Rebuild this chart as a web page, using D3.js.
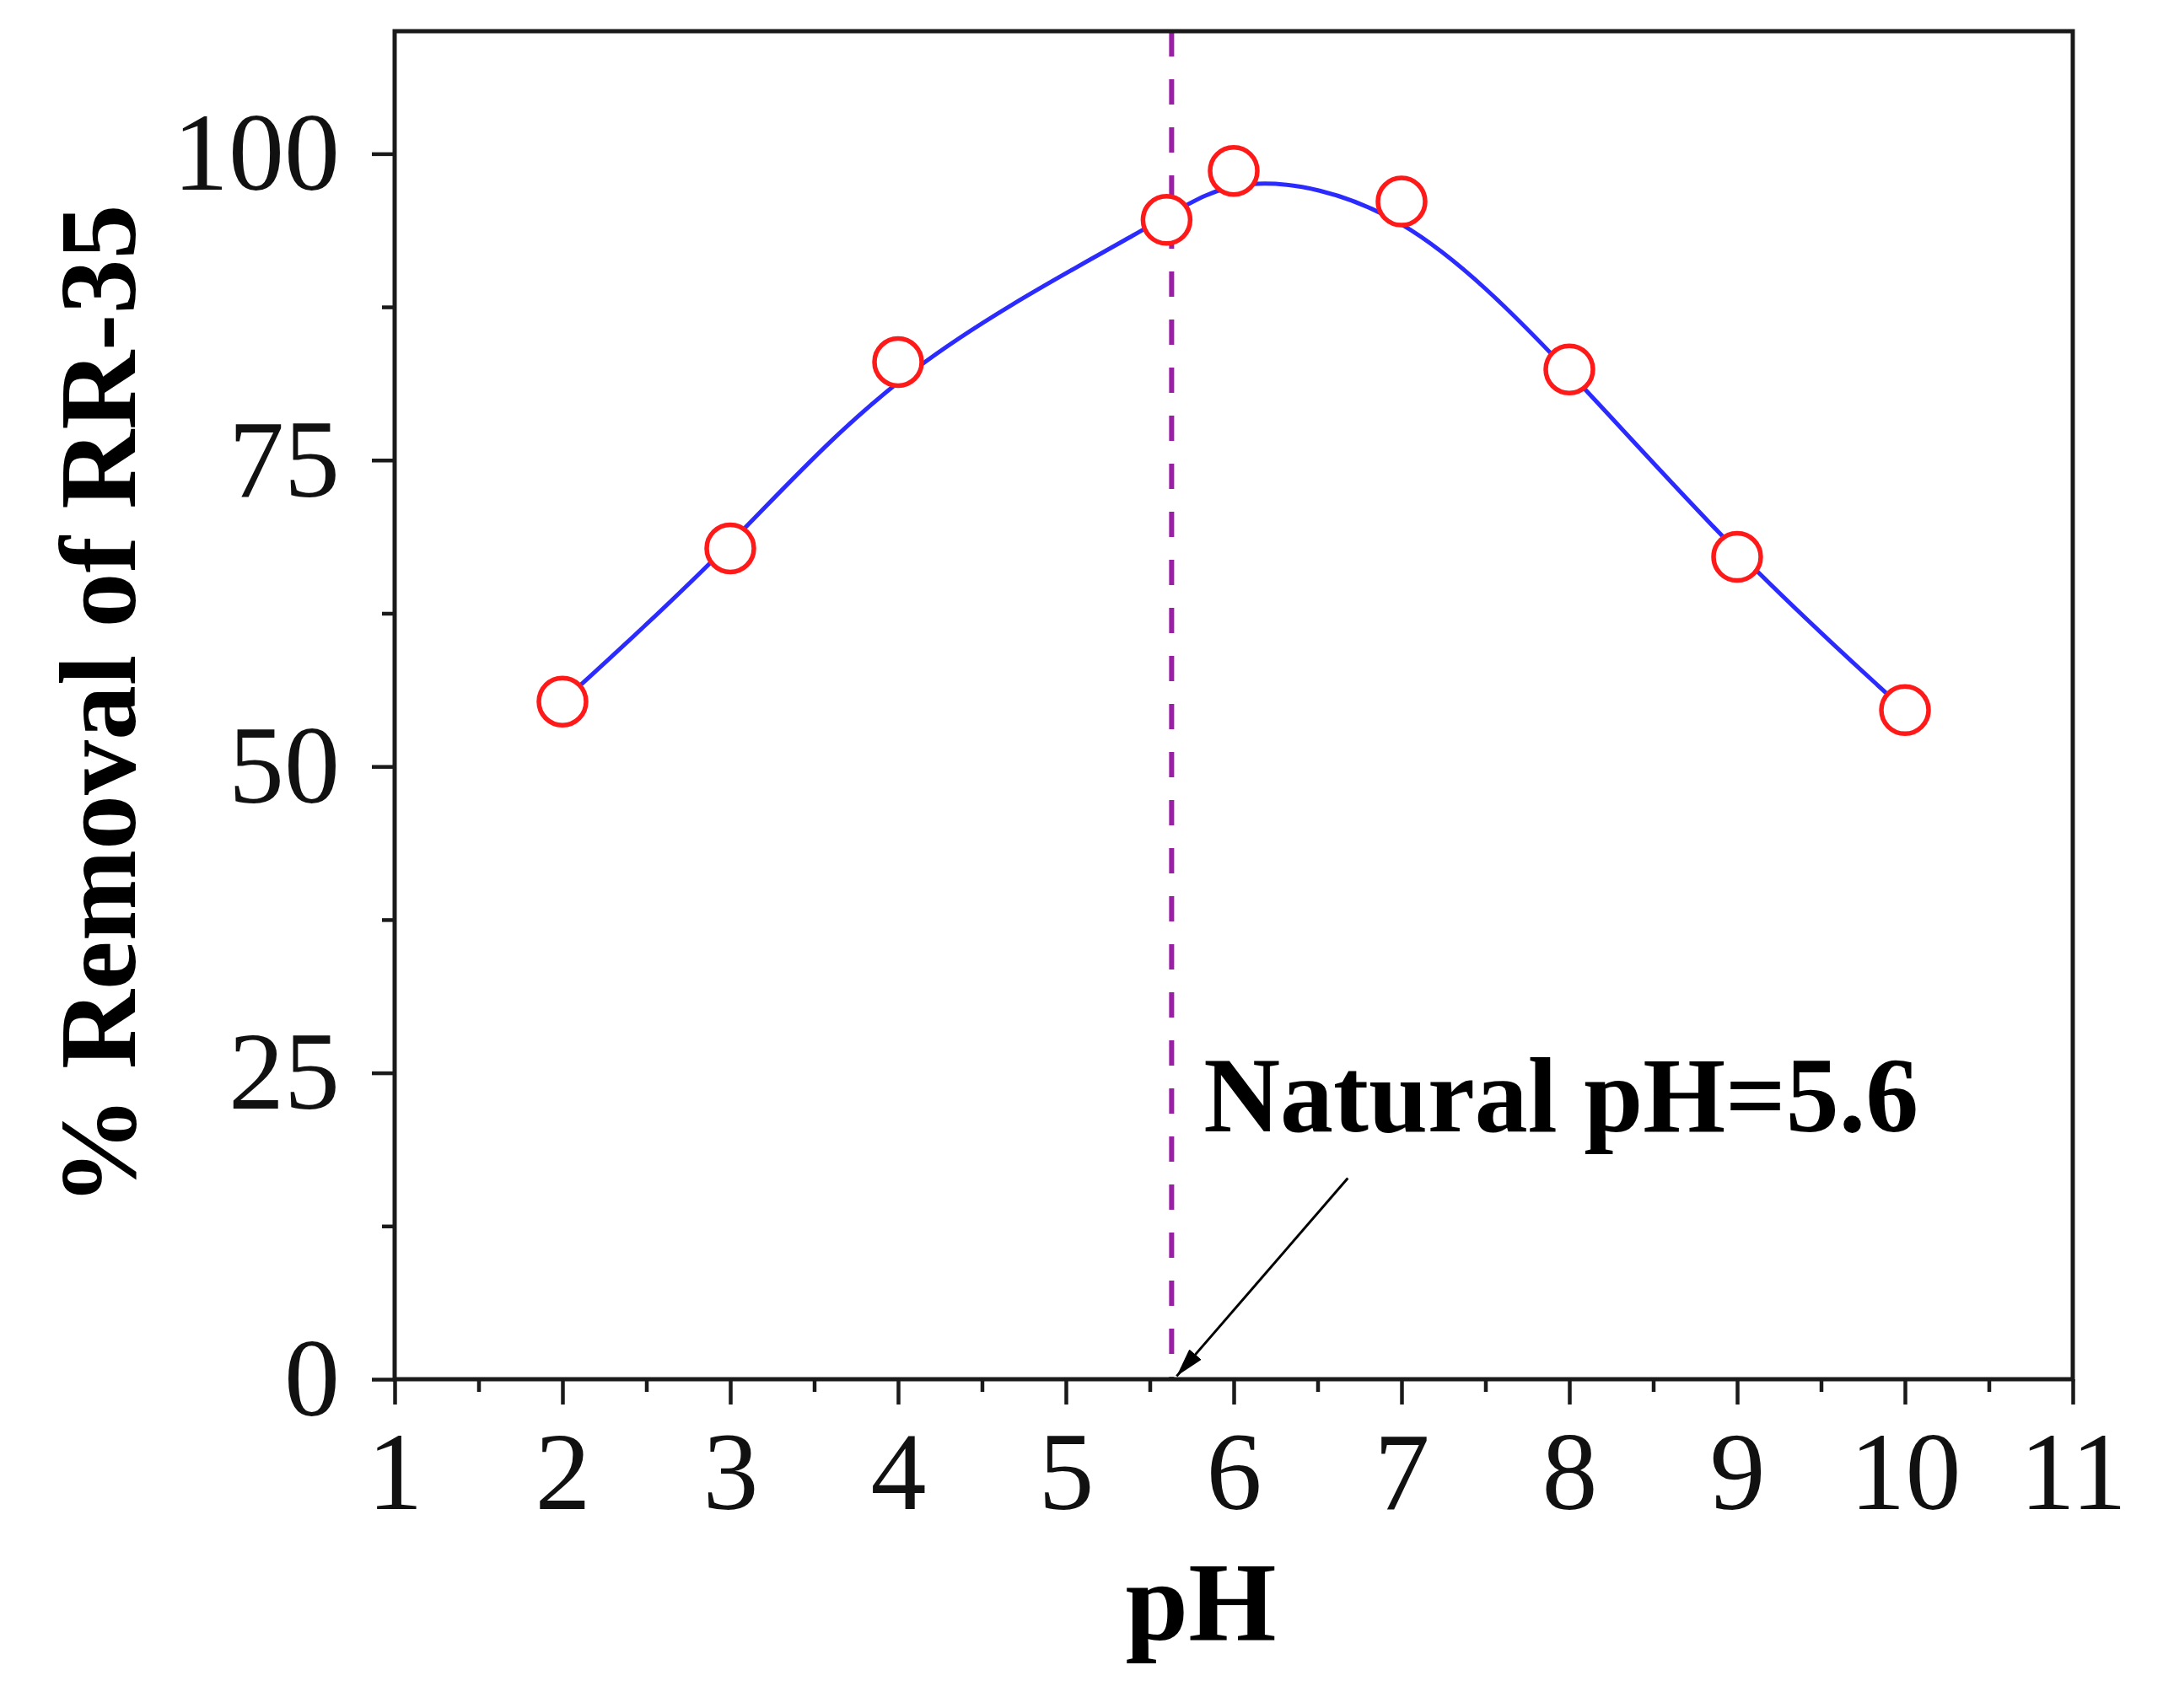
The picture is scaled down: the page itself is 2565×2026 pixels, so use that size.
<!DOCTYPE html>
<html>
<head>
  <script type="text/javascript" src="https://cdn.jsdelivr.net/npm/d3@7"></script>
  <title>pH effect on RR-35 removal</title>
  <style>
    body { margin: 0; background: #fff; }
    svg { display: block; }
  </style>
</head>
<body>

<svg id="chart"></svg>

<script>
  var phValues = [2, 3, 4, 5.6, 6, 7, 8, 9, 10];
  var removalValues = [55.3, 67.8, 83.0, 94.6, 98.6, 96.1, 82.4, 67.1, 54.6];

  var xTicks = [1, 2, 3, 4, 5, 6, 7, 8, 9, 10, 11];
  var xMinorTicks = [1.5, 2.5, 3.5, 4.5, 5.5, 6.5, 7.5, 8.5, 9.5, 10.5];
  var yTicks = [0, 25, 50, 75, 100];
  var yMinorTicks = [12.5, 37.5, 62.5, 87.5];

  var naturalPH = 5.63;
  var noteText = "Natural pH=5.6";

  var width = 2565, height = 2026;
  var margin = { top: 37, right: 107, bottom: 390, left: 468 };
  var font = "'Liberation Serif', 'Times New Roman', serif";

  var svg = d3.select("#chart")
      .attr("width", width)
      .attr("height", height);

  svg.append("rect")
      .attr("width", width)
      .attr("height", height)
      .attr("fill", "#fff");

  var x = d3.scaleLinear().domain([1, 11]).range([margin.left, width - margin.right]);
  var y = d3.scaleLinear().domain([0, 110]).range([height - margin.bottom, margin.top]);

  var points = phValues.map(function(p, i) { return [p, removalValues[i]]; });

  // dashed line at natural pH
  svg.append("line")
      .attr("x1", x(naturalPH)).attr("x2", x(naturalPH))
      .attr("y1", y(110)).attr("y2", y(0))
      .attr("stroke", "#9a1fa6")
      .attr("stroke-width", 6)
      .attr("stroke-dasharray", "30 27");

  // smoothed connecting line (B-spline like)
  var line = d3.line()
      .x(function(d) { return x(d[0]); })
      .y(function(d) { return y(d[1]); })
      .curve(d3.curveBasis);

  svg.append("path")
      .datum(points)
      .attr("d", line)
      .attr("fill", "none")
      .attr("stroke", "#2b2bff")
      .attr("stroke-width", 5);

  svg.selectAll("circle.pt")
      .data(points)
      .enter().append("circle")
      .attr("class", "pt")
      .attr("cx", function(d) { return x(d[0]); })
      .attr("cy", function(d) { return y(d[1]); })
      .attr("r", 28)
      .attr("fill", "#fff")
      .attr("stroke", "#ff1a1a")
      .attr("stroke-width", 5.5);

  // axes
  svg.append("g")
      .attr("transform", "translate(0," + y(0) + ")")
      .call(d3.axisBottom(x).tickValues(xTicks).tickSize(30).tickPadding(30).tickFormat(d3.format("d")));
  svg.append("g")
      .attr("transform", "translate(0," + y(0) + ")")
      .call(d3.axisBottom(x).tickValues(xMinorTicks).tickSize(15).tickFormat(""));

  svg.append("g")
      .attr("transform", "translate(" + x(1) + ",0)")
      .call(d3.axisLeft(y).tickValues(yTicks).tickSize(27).tickPadding(38).tickFormat(d3.format("d")));
  svg.append("g")
      .attr("transform", "translate(" + x(1) + ",0)")
      .call(d3.axisLeft(y).tickValues(yMinorTicks).tickSize(15).tickFormat(""));

  svg.selectAll(".domain").remove();
  svg.selectAll(".tick line").attr("stroke", "#1a1a1a").attr("stroke-width", 4.5);
  svg.selectAll(".tick text")
      .attr("font-family", font)
      .attr("font-size", 132)
      .attr("fill", "#111");

  // frame
  svg.append("rect")
      .attr("x", x(1)).attr("y", y(110))
      .attr("width", x(11) - x(1))
      .attr("height", y(0) - y(110))
      .attr("fill", "none")
      .attr("stroke", "#1a1a1a")
      .attr("stroke-width", 5);

  // axis titles
  svg.append("text")
      .attr("x", 1424)
      .attr("y", 1945)
      .attr("text-anchor", "middle")
      .attr("font-family", font)
      .attr("font-weight", "bold")
      .attr("font-size", 134)
      .text("pH");

  svg.append("text")
      .attr("transform", "translate(160," + (y(0) + y(110)) / 2 + ") rotate(-90)")
      .attr("text-anchor", "middle")
      .attr("font-family", font)
      .attr("font-weight", "bold")
      .attr("font-size", 130)
      .text("% Removal of RR-35");

  // annotation arrow
  svg.append("defs").append("marker")
      .attr("id", "head")
      .attr("viewBox", "0 0 10 10")
      .attr("refX", 10).attr("refY", 5)
      .attr("markerWidth", 34).attr("markerHeight", 34)
      .attr("markerUnits", "userSpaceOnUse")
      .attr("orient", "auto")
    .append("path")
      .attr("d", "M0,2.2 L10,5 L0,7.8 Z")
      .attr("fill", "#000");

  svg.append("line")
      .attr("x1", x(6.68)).attr("y1", y(16.4))
      .attr("x2", x(5.66)).attr("y2", y(0.25))
      .attr("stroke", "#000")
      .attr("stroke-width", 3)
      .attr("marker-end", "url(#head)");

  svg.append("text")
      .attr("x", x(5.82))
      .attr("y", y(20.2))
      .attr("font-family", font)
      .attr("font-weight", "bold")
      .attr("font-size", 128)
      .attr("textLength", 848)
      .attr("lengthAdjust", "spacingAndGlyphs")
      .text(noteText);
</script>

</body>
</html>
